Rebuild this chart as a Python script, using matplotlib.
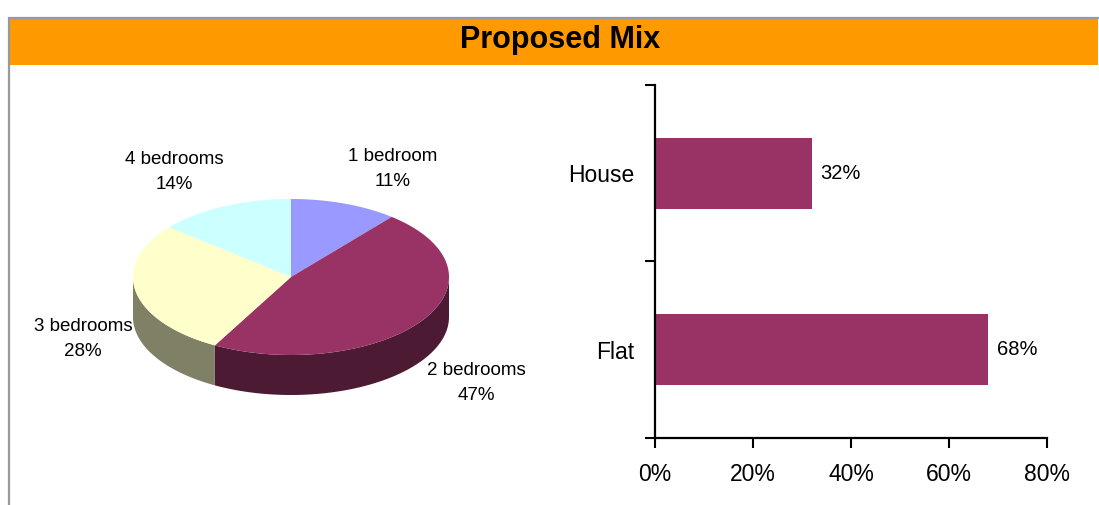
import numpy as np
import matplotlib
matplotlib.use("Agg")
import matplotlib.pyplot as plt
from matplotlib.patches import Polygon, Rectangle

plt.rcParams['font.family'] = ['Liberation Sans', 'DejaVu Sans']

# data
pie_labels = ['1 bedroom', '2 bedrooms', '3 bedrooms', '4 bedrooms']
pie_values = [11, 47, 28, 14]
pie_colors = ['#9999FF', '#993366', '#FFFFCC', '#CCFFFF']
pie_side_colors = ['#4D4D80', '#4D1A33', '#808066', '#668080']

bar_cats = ['Flat', 'House']
bar_values = [0.68, 0.32]
bar_color = '#993366'

fig = plt.figure(figsize=(10.99, 5.05), dpi=100)

# background axes in pixel coords (header, frame, pie)
bg = fig.add_axes([0, 0, 1, 1])
bg.set_xlim(0, 1099)
bg.set_ylim(505, 0)
bg.axis('off')

bg.plot([8, 1099], [18, 18], color='#999999', lw=1.6, solid_capstyle='butt')
bg.plot([9, 9], [17, 505], color='#999999', lw=1.6, solid_capstyle='butt')
bg.add_patch(Rectangle((10, 19), 1088, 46, facecolor='#FF9900', edgecolor='none'))
bg.text(560, 40, 'Proposed Mix', ha='center', va='center', fontsize=22, fontweight='bold')

# 3D pie
cx, cy, rx, ry, depth = 291, 277, 158, 78, 40
fr = np.array(pie_values, dtype=float) / sum(pie_values)
cum = np.concatenate([[0], np.cumsum(fr)])


def arc(t0, t1, dy=0, n=120):
    t = np.radians(np.linspace(t0, t1, n))
    return np.column_stack([cx + rx * np.cos(t), cy - ry * np.sin(t) + dy])


# sides (front half only)
for i in range(len(fr)):
    a0 = 90 - 360 * cum[i]
    a1 = 90 - 360 * cum[i + 1]
    lo, hi = max(a1, -180), min(a0, 0)
    if hi <= lo:
        continue
    top = arc(lo, hi)
    bot = arc(hi, lo, dy=depth)
    bg.add_patch(Polygon(np.vstack([top, bot]), closed=True,
                         facecolor=pie_side_colors[i], edgecolor='none'))

# top wedges
for i in range(len(fr)):
    a0 = 90 - 360 * cum[i]
    a1 = 90 - 360 * cum[i + 1]
    pts = np.vstack([[cx, cy], arc(a0, a1)])
    bg.add_patch(Polygon(pts, closed=True, facecolor=pie_colors[i], edgecolor='none'))

label_pos = [(393, 169), (476, 383), (83, 339), (174, 172)]
for lab, v, (x, y) in zip(pie_labels, pie_values, label_pos):
    bg.text(x, y, '%s\n%d%%' % (lab, v), ha='center', va='center',
            fontsize=13.5, linespacing=1.65)

# bar chart
ax = fig.add_axes([0.596, 0.1327, 0.3567, 0.699])
ypos = np.arange(len(bar_cats))
bars = ax.barh(ypos, bar_values, height=0.4, color=bar_color)
ax.bar_label(bars, labels=['%d%%' % round(v * 100) for v in bar_values],
             padding=6, fontsize=14.5)
ax.set_xlim(0, 0.8)
ax.set_ylim(-0.5, 1.5)
ax.set_xticks([0, 0.2, 0.4, 0.6, 0.8])
ax.set_xticklabels(['0%', '20%', '40%', '60%', '80%'], fontsize=16.5)
ax.set_yticks(ypos)
ax.set_yticklabels(bar_cats, fontsize=16.5)
ax.set_yticks([-0.5, 0.5, 1.5], minor=True)
ax.tick_params(axis='y', which='major', length=0, pad=15)
ax.tick_params(axis='y', which='minor', length=7, width=1.5, direction='out')
ax.tick_params(axis='x', length=7, width=1.5, direction='out', pad=11)
for s in ['top', 'right']:
    ax.spines[s].set_visible(False)
for s in ['left', 'bottom']:
    ax.spines[s].set_linewidth(1.6)
ax.patch.set_alpha(0)

fig.savefig('out.png', dpi=100)
